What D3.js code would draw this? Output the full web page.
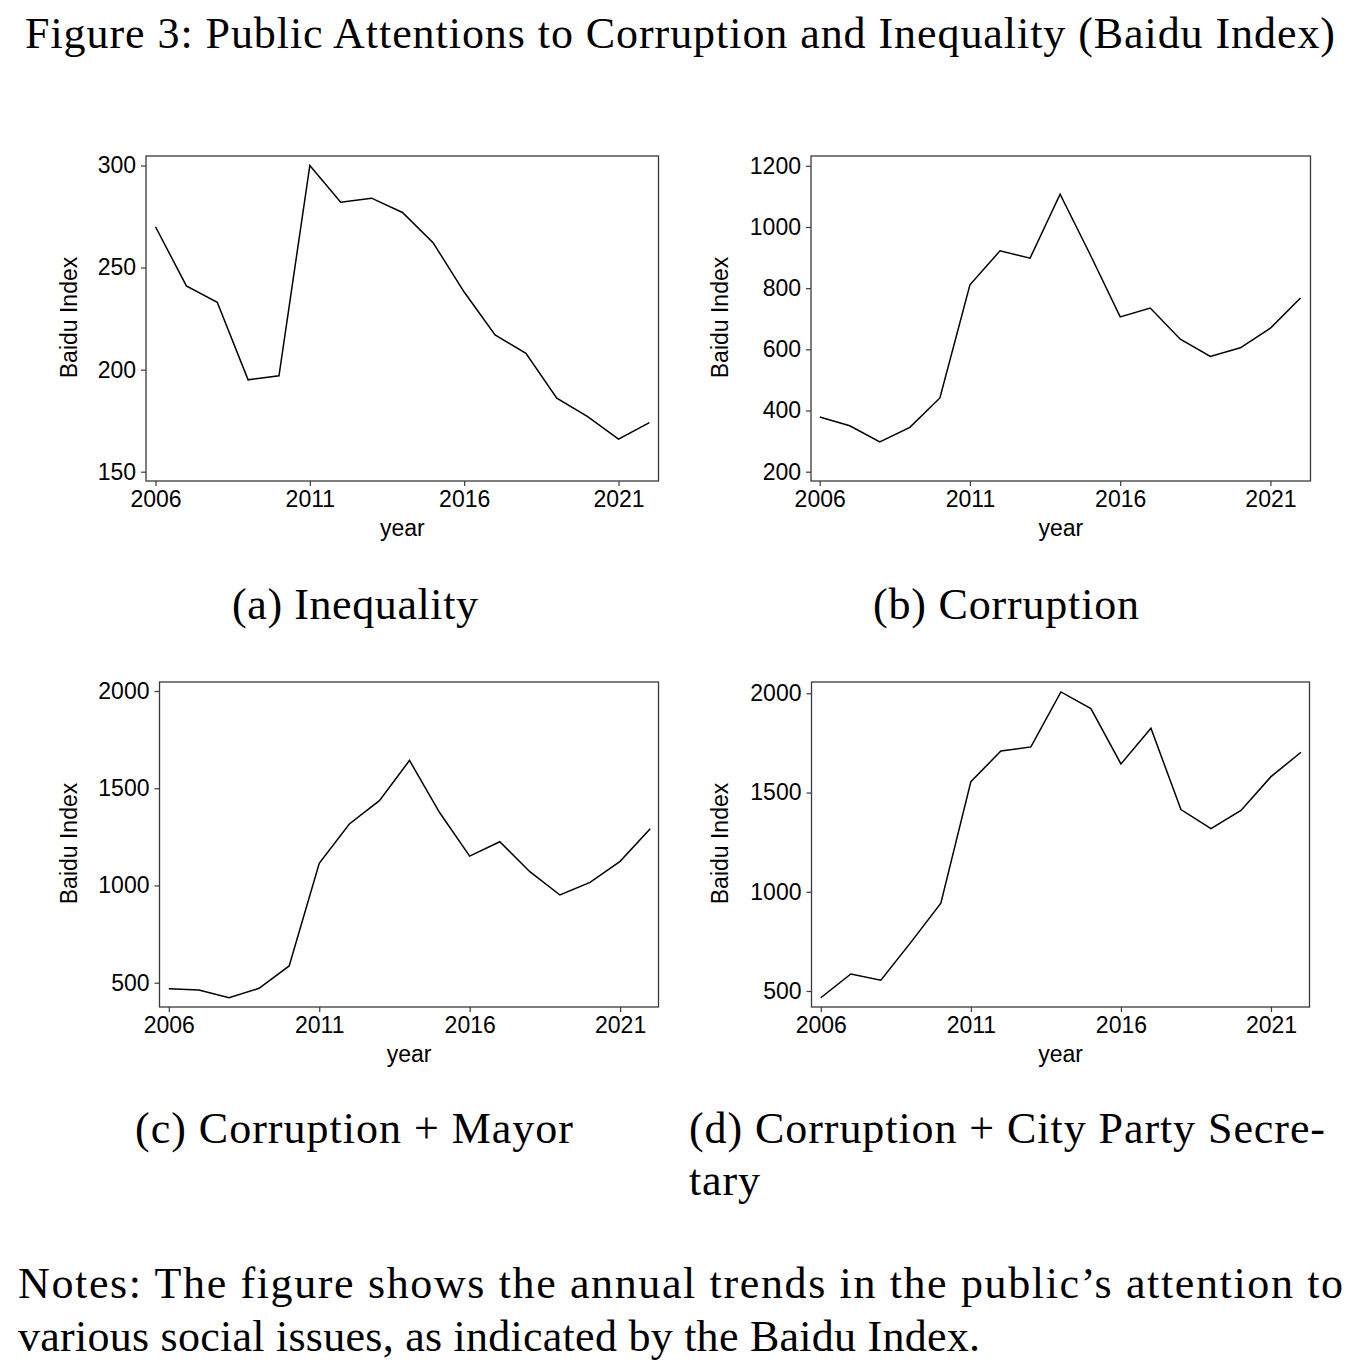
<!DOCTYPE html>
<html>
<head>
<meta charset="utf-8">
<script src="https://cdn.jsdelivr.net/npm/d3@7"></script>
<style>
  body { margin: 0; background: #fff; }
  .serif { font-family: "Liberation Serif", "Times New Roman", serif; fill: #000; }
  .sans { font-family: "Liberation Sans", Arial, Helvetica, sans-serif; fill: #000; }
</style>
</head>
<body>
<div id="chart-area"></div>
<script>
// data
const years = [2006, 2007, 2008, 2009, 2010, 2011, 2012, 2013, 2014, 2015, 2016, 2017, 2018, 2019, 2020, 2021, 2022];
const inequality = [270, 241, 233, 195, 197, 300, 282, 284, 277, 262, 238, 217, 208, 186, 177, 166, 174];
const corruption = [379, 350, 297, 345, 441, 811, 922, 898, 1107, 910, 706, 735, 633, 577, 605, 669, 768];
const corruptionMayor = [469, 462, 423, 471, 586, 1114, 1316, 1436, 1643, 1375, 1151, 1225, 1071, 951, 1016, 1124, 1292];
const corruptionSecretary = [466, 586, 554, 745, 942, 1555, 1709, 1730, 2007, 1923, 1644, 1824, 1414, 1318, 1410, 1580, 1703];

const xTicks = [2006, 2011, 2016, 2021];
const yTicksA = [150, 200, 250, 300];
const yTicksB = [200, 400, 600, 800, 1000, 1200];
const yTicksC = [500, 1000, 1500, 2000];
const yTicksD = [500, 1000, 1500, 2000];

const titleText = 'Figure 3: Public Attentions to Corruption and Inequality (Baidu Index)';
const notes = ['Notes: The figure shows the annual trends in the public\u2019s attention to',
               'various social issues, as indicated by the Baidu Index.'];

const W = 1368, H = 1370;
const svg = d3.select('#chart-area')
    .append('svg')
        .attr('width', W)
        .attr('height', H);

// panel layout: box edges, and where the first/last year and min/max tick land
const panels = [
    {values: inequality, yTicks: yTicksA, box: [146, 156, 658.5, 481], xr: [155.5, 649.4], yr: [471.7, 165.5],
     labX: 77, caption: ['(a) Inequality'], capX: 232, capW: [246], capY: 619},
    {values: corruption, yTicks: yTicksB, box: [811, 156, 1310.5, 481], xr: [819.7, 1300.5], yr: [471.7, 165.8],
     labX: 728, caption: ['(b) Corruption'], capX: 873, capW: [266], capY: 619},
    {values: corruptionMayor, yTicks: yTicksC, box: [159.5, 682, 658.5, 1007], xr: [168.8, 650.2], yr: [982.7, 691],
     labX: 77, caption: ['(c) Corruption + Mayor'], capX: 135, capW: [438], capY: 1143},
    {values: corruptionSecretary, yTicks: yTicksD, box: [811.5, 682, 1309.5, 1007], xr: [820.8, 1301], yr: [991, 693.3],
     labX: 728, caption: ['(d) Corruption + City Party Secre-', 'tary'], capX: 689, capW: [636, 71], capY: 1143}
];

const serifSize = '44px';
const sansSize = '23px';

svg.append('text')
    .attr('class', 'serif')
    .attr('x', 25)
    .attr('y', 48)
    .attr('font-size', serifSize)
    .attr('textLength', 1310)
    .attr('lengthAdjust', 'spacing')
    .text(titleText);

panels.forEach(p => {
    const [bx0, by0, bx1, by1] = p.box;

    const x = d3.scaleLinear()
        .domain([years[0], years[years.length - 1]])
        .range(p.xr);

    const y = d3.scaleLinear()
        .domain([p.yTicks[0], p.yTicks[p.yTicks.length - 1]])
        .range(p.yr);

    const g = svg.append('g');

    // frame
    g.append('rect')
        .attr('x', bx0)
        .attr('y', by0)
        .attr('width', bx1 - bx0)
        .attr('height', by1 - by0)
        .attr('fill', 'none')
        .attr('stroke', '#3a3a3a')
        .attr('stroke-width', 1.3);

    const xAxisCall = d3.axisBottom(x)
        .tickValues(xTicks)
        .tickFormat(d3.format('d'))
        .tickSize(5)
        .tickPadding(5);

    g.append('g')
        .attr('class', 'x axis')
        .attr('transform', `translate(0, ${by1})`)
        .call(xAxisCall)
        .call(a => a.select('.domain').remove())
        .call(a => a.selectAll('line').attr('stroke', '#3a3a3a').attr('stroke-width', 1.2))
        .selectAll('text')
            .attr('class', 'sans')
            .attr('font-size', sansSize)
            .attr('fill', '#000');

    const yAxisCall = d3.axisLeft(y)
        .tickValues(p.yTicks)
        .tickFormat(d3.format('d'))
        .tickSize(5)
        .tickPadding(5);

    g.append('g')
        .attr('class', 'y axis')
        .attr('transform', `translate(${bx0}, 0)`)
        .call(yAxisCall)
        .call(a => a.select('.domain').remove())
        .call(a => a.selectAll('line').attr('stroke', '#3a3a3a').attr('stroke-width', 1.2))
        .selectAll('text')
            .attr('class', 'sans')
            .attr('font-size', sansSize)
            .attr('fill', '#000');

    // axis titles
    g.append('text')
        .attr('class', 'sans')
        .attr('font-size', sansSize)
        .attr('text-anchor', 'middle')
        .attr('transform', `translate(${p.labX}, ${(by0 + by1) / 2 - 1}) rotate(-90)`)
        .text('Baidu Index');

    g.append('text')
        .attr('class', 'sans')
        .attr('font-size', sansSize)
        .attr('text-anchor', 'middle')
        .attr('x', (bx0 + bx1) / 2)
        .attr('y', by1 + 55)
        .text('year');

    const line = d3.line()
        .x((d, i) => x(years[i]))
        .y(d => y(d));

    g.append('path')
        .datum(p.values)
        .attr('d', line)
        .attr('fill', 'none')
        .attr('stroke', '#000')
        .attr('stroke-width', 1.5)
        .attr('stroke-linejoin', 'miter');

    // sub-caption
    p.caption.forEach((c, i) => {
        svg.append('text')
            .attr('class', 'serif')
            .attr('x', p.capX)
            .attr('y', p.capY + i * 52)
            .attr('font-size', serifSize)
            .attr('textLength', p.capW[i])
            .attr('lengthAdjust', 'spacing')
            .text(c);
    });
});

// notes
svg.append('text')
    .attr('class', 'serif')
    .attr('x', 18)
    .attr('y', 1298)
    .attr('font-size', serifSize)
    .attr('textLength', 1325)
    .attr('lengthAdjust', 'spacing')
    .text(notes[0]);

svg.append('text')
    .attr('class', 'serif')
    .attr('x', 18)
    .attr('y', 1351)
    .attr('font-size', serifSize)
    .attr('textLength', 962)
    .attr('lengthAdjust', 'spacing')
    .text(notes[1]);
</script>
</body>
</html>
